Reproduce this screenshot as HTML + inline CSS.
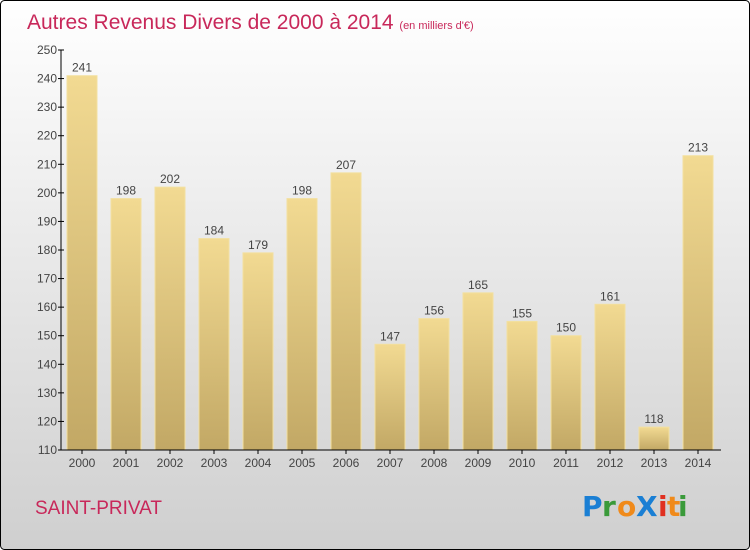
<!DOCTYPE html>
<html><head><meta charset="utf-8"><style>
body{margin:0;width:750px;height:550px;overflow:hidden;font-family:"Liberation Sans",sans-serif}
svg{display:block}
</style></head><body>
<svg id="c" width="750" height="550">
<defs>
<linearGradient id="bg" x1="0" y1="0" x2="0" y2="1"><stop offset="0" stop-color="#ffffff"/><stop offset="1" stop-color="#cfcfcf"/></linearGradient>
<linearGradient id="bar" x1="0" y1="0" x2="0" y2="1"><stop offset="0" stop-color="#f2da92"/><stop offset="1" stop-color="#c2a865"/></linearGradient>
</defs>
<rect x="0.5" y="0.5" width="749" height="549" rx="4" fill="url(#bg)" stroke="#000"/>
<text x="27" y="29" font-size="21" fill="#c8285a">Autres Revenus Divers de 2000 à 2014 <tspan font-size="11">(en milliers d'€)</tspan></text>
<text x="35" y="514" font-size="19" fill="#c8285a">SAINT-PRIVAT</text>
<g font-family="'DejaVu Sans',sans-serif" font-size="28" font-weight="bold">
<text x="582" y="516" fill="#1a7fd4">P</text><text x="602" y="516" fill="#3a9a3a">r</text><text x="617" y="516" fill="#f08a1a">o</text><text x="636" y="516" fill="#1a7fd4">X</text><text x="658" y="516" fill="#e03020">i</text><text x="667" y="516" fill="#f08a1a">t</text><text x="678" y="516" fill="#3a9a3a">i</text>
</g>
<g id="plot"></g>
</svg>
<script>
const years=["2000","2001","2002","2003","2004","2005","2006","2007","2008","2009","2010","2011","2012","2013","2014"];
const values=[241,198,202,184,179,198,207,147,156,165,155,150,161,118,213];
const ticks=[110,120,130,140,150,160,170,180,190,200,210,220,230,240,250];
const NS="http://www.w3.org/2000/svg";
const g=document.getElementById('plot');
const y0=450,y1=50,vmin=110,vmax=250;
const Y=v=>y0-(v-vmin)/(vmax-vmin)*(y0-y1);
const X=i=>82+i*44;
function mk(t,a){const e=document.createElementNS(NS,t);for(const k in a)e.setAttribute(k,a[k]);g.appendChild(e);return e;}
values.forEach((v,i)=>{
 const r=mk('rect',{x:X(i)-15,y:Y(v),width:30,height:y0-Y(v),fill:'url(#bar)',stroke:'#f3e0a0','stroke-width':1});
 
 
 const t=mk('text',{x:X(i),y:Y(v)-4,'text-anchor':'middle','font-size':12,fill:'#444'});t.textContent=v;
 
 
 const xl=mk('text',{x:X(i),y:467,'text-anchor':'middle','font-size':12,fill:'#444'});xl.textContent=years[i];
 
 
 mk('line',{x1:X(i),x2:X(i),y1:450,y2:454,stroke:'#000'});
});
ticks.forEach(v=>{
 mk('line',{x1:58,x2:64,y1:Y(v),y2:Y(v),stroke:'#000'});
 const t=mk('text',{x:57,y:Y(v)+4,'text-anchor':'end','font-size':12,fill:'#444'});t.textContent=v;
 
 
});
const ya=mk('line',{x1:61,x2:61,y1:50,y2:450,stroke:'#000'});


const xa=mk('line',{x1:61,x2:721,y1:450,y2:450,stroke:'#000'});


</script>
</body></html>
